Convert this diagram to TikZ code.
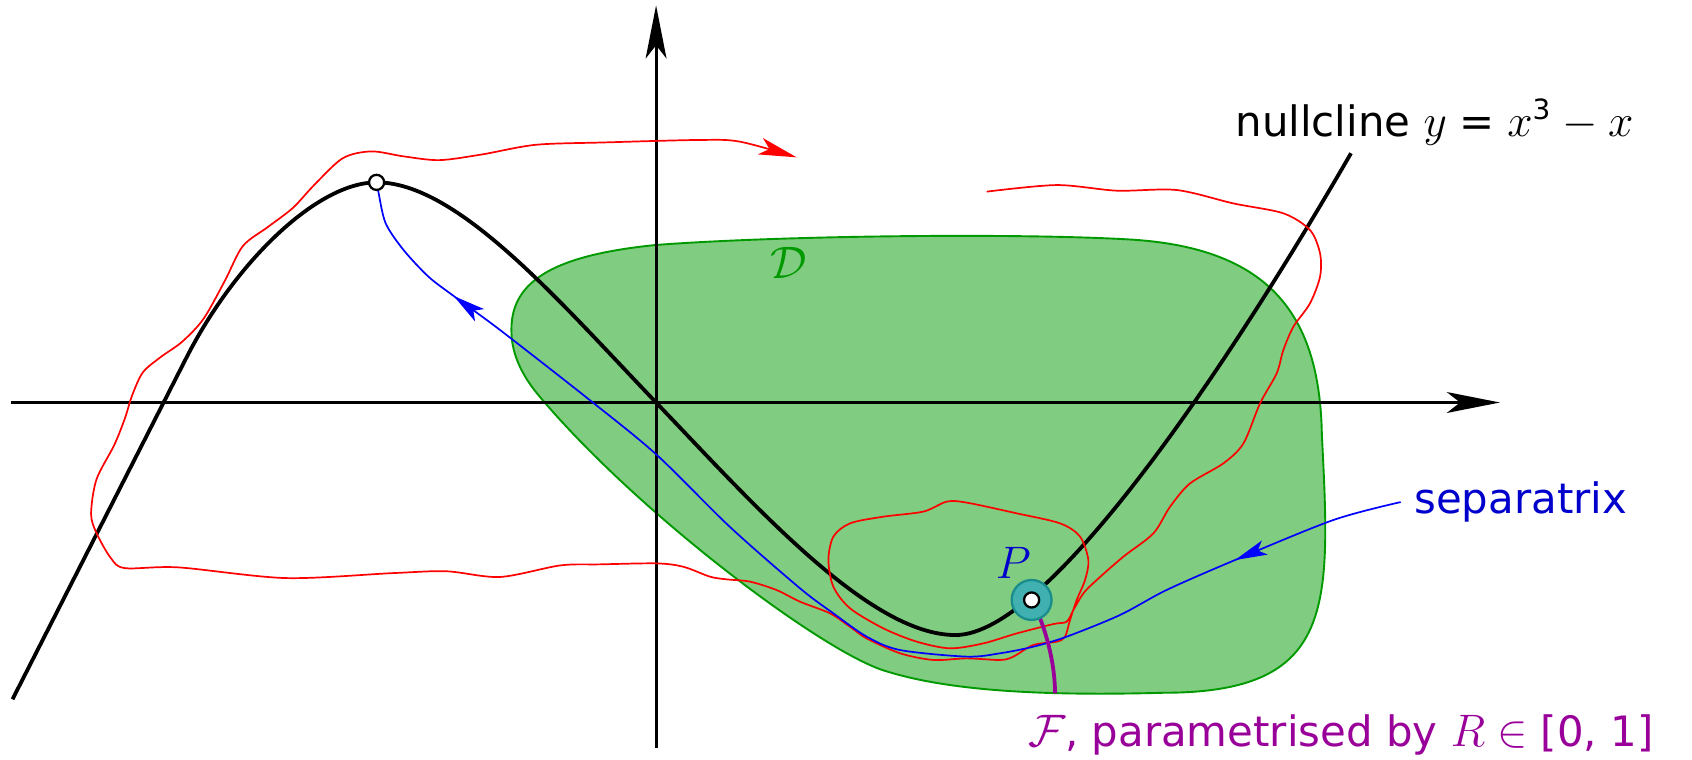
\documentclass[tikz,border=0pt,12pt]{standalone}
\usepackage{fontspec}
\setmainfont[Scale=0.92]{DejaVu Sans}
\usetikzlibrary{arrows.meta,positioning,decorations.markings}
\definecolor{dgreen}{rgb}{0,0.6,0}
\definecolor{dfill}{rgb}{0.5,0.8,0.5}
\definecolor{sepblue}{rgb}{0,0,0.8}
\definecolor{fpurple}{rgb}{0.6,0,0.6}
\definecolor{pteal}{rgb}{0.25,0.69,0.69}
\definecolor{pedge}{rgb}{0.1,0.55,0.55}

\begin{document}
\begin{tikzpicture}[
  axis/.style={line width=0.8pt, -{Stealth[length=14pt,width=5.5pt,inset=3.5pt]}},
  ncurve/.style={line width=1pt},
  region/.style={draw=dgreen, fill=dfill, line width=0.5pt},
  traj/.style={red, line width=0.45pt, -{Stealth[length=10pt,width=4.5pt,inset=2.5pt]}},
  sep/.style={blue, line width=0.45pt},
  sepmarks/.style={postaction={decorate}, decoration={markings,
      mark=at position 1.63cm with {\arrow{Stealth[length=8.5pt,width=4pt,inset=2pt]}},
      mark=at position -1.32cm with {\arrow{Stealth[length=8.5pt,width=4pt,inset=2pt]}}}},
  fline/.style={fpurple, line width=1pt},
  wdot/.style={circle, draw, fill=white, line width=0.6pt, minimum size=0.14cm, inner sep=0pt},
  pring/.style={circle, draw=pedge, fill=pteal, line width=0.6pt, minimum size=0.37cm, inner sep=0pt},
  lab/.style={inner sep=0pt}
]
\useasboundingbox (-6.08,-3.31) rectangle (9.60,3.73);

\draw[region] (-1.34,0.64) .. controls (-1.36,1.1) and (-1.0,1.36) .. (0,1.46)
  .. controls (1.2,1.55) and (3.4,1.57) .. (4.4,1.51)
  .. controls (5.7,1.43) and (6.15,0.8) .. (6.17,-0.3)
  .. controls (6.25,-1.9) and (6.3,-2.69) .. (4.7,-2.69)
  .. controls (3.6,-2.72) and (2.7,-2.676) .. (2.1,-2.48)
  .. controls (1.5,-2.28) and (-0.2,-1.0) .. (-1.1,0.08)
  .. controls (-1.28,0.30) and (-1.335,0.49) .. cycle;
\node[lab, text=dgreen] (dlab) at (1.23,1.29) {$\mathcal{D}$};

\coordinate (xstart) at (-5.98,0);
\coordinate (xend) at (7.82,0);
\coordinate (ystart) at (0,-3.2);
\coordinate (yend) at (0,3.68);
\draw[axis] (xstart) -- (xend);
\draw[axis] (ystart) -- (yend);

\coordinate (maxc) at (-2.59,2.04);
\coordinate (minc) at (2.774,-2.155);
\coordinate (pc) at (3.48,-1.83);
\coordinate (ncstart) at (-5.964,-2.75);
\coordinate (ncend) at (6.44,2.31);

\draw[ncurve] (ncstart) -- (-4.35,0.42)
  .. controls (-3.9,1.30) and (-3.14,2.04) .. (maxc)
  .. controls (-1.838,2.04) and (-0.9,0.94) .. (0,0)
  .. controls (0.9,-0.94) and (1.974,-2.155) .. (minc)
  .. controls (3.65,-2.155) and (5.34,0.407) .. (ncend);
\node[lab, anchor=base west] (nclab) at (5.362,2.467) {nullcline $y\mathrel{\mbox{=}}x^{\mbox{\scriptsize 3}}-x$};

\draw[traj] plot[smooth, tension=0.5] coordinates {
  (3.064,1.954) (3.713,2.015) (4.269,1.963) (4.825,1.969) (5.35,1.845) (5.813,1.753)
  (6.06,1.598) (6.153,1.382) (6.153,1.166) (6.06,0.919) (5.906,0.702) (5.813,0.486)
  (5.751,0.27) (5.597,-0.008) (5.443,-0.379) (5.257,-0.564) (4.948,-0.75) (4.763,-0.966)
  (4.608,-1.213) (4.33,-1.429) (4.083,-1.645) (3.96,-1.768) (3.867,-1.923) (3.805,-2.031)
  (3.682,-2.053) (3.342,-2.14) (3.033,-2.232) (2.724,-2.278) (2.415,-2.216) (2.106,-2.093)
  (1.797,-1.907) (1.643,-1.707) (1.597,-1.46) (1.643,-1.243) (1.797,-1.12) (2.106,-1.058)
  (2.477,-1.011) (2.693,-0.919) (2.879,-0.928) (3.342,-1.027) (3.744,-1.12) (3.929,-1.243)
  (4.006,-1.46) (3.975,-1.645) (3.898,-1.83) (3.836,-2.015) (3.79,-2.17) (3.713,-2.216)
  (3.496,-2.247) (3.311,-2.355) (3.188,-2.386) (2.879,-2.371) (2.57,-2.386) (2.261,-2.324)
  (1.951,-2.186) (1.797,-2.078) (1.612,-1.954) (1.334,-1.846) (1.117,-1.738) (0.87,-1.66)
  (0.654,-1.639) (0.5,-1.614) (0.252,-1.522) (0.005,-1.491) (-0.52,-1.5) (-0.89,-1.51)
  (-1.447,-1.617) (-1.943,-1.564) (-2.44,-1.581) (-3.432,-1.627) (-4.425,-1.528) (-4.922,-1.535)
  (-5.054,-1.44) (-5.186,-1.209) (-5.236,-1.032) (-5.186,-0.713) (-5.021,-0.394) (-4.922,-0.146)
  (-4.855,0.067) (-4.756,0.279) (-4.591,0.421) (-4.392,0.563) (-4.194,0.775) (-3.995,1.13)
  (-3.83,1.449) (-3.598,1.626) (-3.366,1.803) (-3.168,2.016) (-2.903,2.264) (-2.638,2.327)
  (-2.34,2.281) (-2.009,2.246) (-1.612,2.299) (-1.116,2.388) (-0.48,2.41) (0.407,2.433)
  (0.778,2.417) (1.303,2.272)};

\node[lab, inner sep=1.2mm, text=sepblue, anchor=base west] (seplab) at (6.90,-1.03) {separatrix};
\draw[sep, sepmarks] plot[smooth] coordinates {
  (seplab.west) (6.276,-1.089) (5.365,-1.46) (4.732,-1.737) (4.30,-1.969) (3.805,-2.17)
  (3.496,-2.263) (3.188,-2.324) (2.879,-2.355) (2.261,-2.294) (1.952,-2.17) (1.643,-1.954)
  (1.334,-1.722) (0.682,-1.151) (0.008,-0.487) (-0.595,0.007) (-1.446,0.672) (-1.877,0.988)
  (-2.108,1.165) (-2.34,1.413) (-2.506,1.661) (-2.572,1.945) (maxc)};

\coordinate (fend) at (3.697,-2.695);
\node[lab, text=fpurple, anchor=base west] (flab) at (3.44,-3.19) {$\mathcal{F}$, parametrised by $R\in\mbox{[0, 1]}$};
\draw[fline] (pc) .. controls (3.60,-2.05) and (3.697,-2.4) .. (fend);

\node[pring] (ring) at (pc) {};
\node[wdot] (pdot) at (pc) {};
\node[lab, text=sepblue, anchor=base east] (plab) at (ring.north) {$P$};
\node[wdot] (maxpt) at (maxc) {};

\end{tikzpicture}
\end{document}
